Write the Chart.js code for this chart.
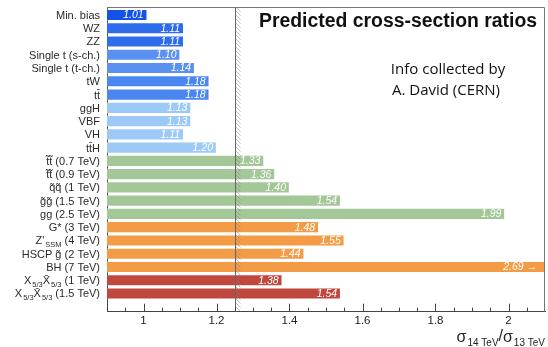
<!DOCTYPE html>
<html>
<head>
<meta charset="utf-8">
<script src="https://cdn.jsdelivr.net/npm/chart.js@4"></script>
<style>
  html, body { margin: 0; padding: 0; background: #fff; }
  canvas { display: block; }
</style>
</head>
<body>
<canvas id="chart" width="548" height="347"></canvas>
<script>
// Processes, top to bottom. "_{...}" marks a subscript.
const categories = [
  'Min. bias', 'WZ', 'ZZ', 'Single t (s-ch.)', 'Single t (t-ch.)', 'tW', 't\u0074\u0304',
  'ggH', 'VBF', 'VH', 't\u0074\u0304H',
  't\u0303t\u0303 (0.7 TeV)', 't\u0303t\u0303 (0.9 TeV)', 'q\u0303q\u0303 (1 TeV)',
  'g\u0303g\u0303 (1.5 TeV)', 'gg (2.5 TeV)',
  'G* (3 TeV)', "Z'_{SSM} (4 TeV)", 'HSCP g\u0303 (2 TeV)', 'BH (7 TeV)',
  'X_{5/3}X\u0304_{5/3} (1 TeV)', 'X_{5/3}X\u0304_{5/3} (1.5 TeV)'
];
// sigma(14 TeV) / sigma(13 TeV)
const ratios = [
  1.01, 1.11, 1.11, 1.10, 1.14, 1.18, 1.18,
  1.13, 1.13, 1.11, 1.20,
  1.33, 1.36, 1.40, 1.54, 1.99,
  1.48, 1.55, 1.44, 2.69,
  1.38, 1.54
];
const processGroup = [
  'minbias', 'diboson', 'diboson', 'singletop', 'singletop', 'top', 'top',
  'higgs', 'higgs', 'higgs', 'higgs',
  'susy', 'susy', 'susy', 'susy', 'susy',
  'exotic', 'exotic', 'exotic', 'exotic',
  'vlq', 'vlq'
];
const xTickValues = [1, 1.2, 1.4, 1.6, 1.8, 2];
const referenceRatio = 1.25;

const groupColors = {
  minbias: '#1553e7',
  diboson: '#2d6dec',
  singletop: '#5a90f0',
  top: '#4a86ef',
  higgs: '#9dc9f7',
  susy: '#a3c797',
  exotic: '#f39c45',
  vlq: '#c0473d'
};

const SANS = '"Liberation Sans", Arial, sans-serif';

// split a label into plain and subscript runs
function richSegments(label) {
  const out = [];
  const re = /_\{([^}]*)\}/g;
  let last = 0, m;
  while ((m = re.exec(label)) !== null) {
    if (m.index > last) out.push({ t: label.slice(last, m.index), sub: false });
    out.push({ t: m[1], sub: true });
    last = re.lastIndex;
  }
  if (last < label.length) out.push({ t: label.slice(last), sub: false });
  return out;
}
// draw a label with subscripts, right-aligned at xr
function drawRich(ctx, label, xr, yMid, size, subSize, color) {
  const segs = richSegments(label);
  let total = 0;
  segs.forEach(s => {
    ctx.font = (s.sub ? subSize : size) + 'px ' + SANS;
    s.w = ctx.measureText(s.t).width + (s.sub ? 1 : 0);
    total += s.w;
  });
  let xx = xr - total;
  ctx.fillStyle = color;
  ctx.textAlign = 'left';
  ctx.textBaseline = 'alphabetic';
  const base = yMid + size * 0.36;
  segs.forEach(s => {
    ctx.font = (s.sub ? subSize : size) + 'px ' + SANS;
    ctx.fillText(s.t, xx + (s.sub ? 1 : 0), s.sub ? base + 3 : base);
    xx += s.w;
  });
}

const decor = {
  id: 'decor',
  afterDatasetsDraw(chart) {
    const { ctx, chartArea: a, scales: { x, y } } = chart;

    // reference line with hatching
    ctx.save();
    ctx.beginPath();
    ctx.rect(a.left, a.top, a.right - a.left, a.bottom - a.top);
    ctx.clip();
    const rx = Math.round(x.getPixelForValue(referenceRatio)) + 0.5;
    ctx.strokeStyle = 'rgba(130,130,130,0.65)';
    ctx.lineWidth = 0.8;
    for (let yy = a.top - 4; yy < a.bottom; yy += 4) {
      ctx.beginPath();
      ctx.moveTo(rx + 0.5, yy);
      ctx.lineTo(rx + 5, yy + 4.5);
      ctx.stroke();
    }
    ctx.strokeStyle = '#666';
    ctx.lineWidth = 1;
    ctx.beginPath();
    ctx.moveTo(rx, a.top);
    ctx.lineTo(rx, a.bottom);
    ctx.stroke();
    ctx.restore();

    // value labels inside the bars
    const meta = chart.getDatasetMeta(0);
    ctx.save();
    ctx.fillStyle = '#ffffff';
    ctx.font = 'italic 10.5px ' + SANS;
    ctx.textAlign = 'right';
    ctx.textBaseline = 'middle';
    meta.data.forEach((bar, i) => {
      const v = ratios[i];
      const clipped = v > x.max;
      const xr = clipped ? a.right - 8 : bar.x - 3.5;
      ctx.fillText(v.toFixed(2) + (clipped ? ' \u2192' : ''), xr, bar.y + 0.5);
    });
    ctx.restore();

    // inward tick marks on the bottom axis
    ctx.save();
    ctx.strokeStyle = '#444';
    ctx.lineWidth = 1;
    for (let k = 1; k < 24; k++) {
      const v = 0.9 + k * 0.05;
      const px = Math.round(x.getPixelForValue(v)) + 0.5;
      const major = Math.abs((v * 5) - Math.round(v * 5)) < 1e-6;
      ctx.beginPath();
      ctx.moveTo(px, a.bottom);
      ctx.lineTo(px, a.bottom - (major ? 8 : 4));
      ctx.stroke();
    }
    // top and right frame
    ctx.strokeStyle = '#777';
    ctx.beginPath();
    ctx.moveTo(a.left, a.top + 0.5);
    ctx.lineTo(a.right - 0.5, a.top + 0.5);
    ctx.lineTo(a.right - 0.5, a.bottom);
    ctx.stroke();
    ctx.restore();

    // process labels
    ctx.save();
    categories.forEach((c, i) => {
      drawRich(ctx, c, 100, y.getPixelForValue(i), 11, 7.5, '#2a2a2a');
    });
    ctx.restore();
  },
  afterDraw(chart) {
    const { ctx } = chart;
    ctx.save();
    // header
    ctx.fillStyle = '#111';
    ctx.font = 'bold 19.4px ' + SANS;
    ctx.textAlign = 'left';
    ctx.textBaseline = 'alphabetic';
    ctx.fillText('Predicted cross-section ratios', 259, 27);
    ctx.font = '15px "Open Sans", sans-serif';
    ctx.textAlign = 'center';
    ctx.fillText('Info collected by', 448, 74);
    ctx.fillText('A. David (CERN)', 446, 95);

    // axis title: sigma_{14 TeV} / sigma_{13 TeV}
    const parts = [
      { t: '\u03c3', s: 16, dy: 0 },
      { t: '14 TeV', s: 10, dy: 3.5 },
      { t: '/', s: 16, dy: -1 },
      { t: '\u03c3', s: 16, dy: 0 },
      { t: '13 TeV', s: 10, dy: 3.5 }
    ];
    let w = 0;
    parts.forEach(p => { ctx.font = p.s + 'px ' + SANS; p.w = ctx.measureText(p.t).width + (p.s === 10 ? 1 : 0); w += p.w; });
    let xx = 545 - w;
    ctx.textAlign = 'left';
    ctx.fillStyle = '#222';
    parts.forEach(p => {
      ctx.font = p.s + 'px ' + SANS;
      ctx.fillText(p.t, xx + (p.s === 10 ? 1 : 0), 342 + p.dy);
      xx += p.w;
    });
    ctx.restore();
  }
};

new Chart(document.getElementById('chart').getContext('2d'), {
  type: 'bar',
  data: {
    datasets: [{
      data: ratios.map((v, i) => ({ x: v, y: i })),
      backgroundColor: processGroup.map(g => groupColors[g]),
      borderColor: 'rgba(255,255,255,0.3)',
      borderWidth: 1,
      barThickness: 11.5
    }]
  },
  options: {
    indexAxis: 'y',
    responsive: false,
    animation: false,
    devicePixelRatio: 1,
    layout: { padding: { top: 7, right: 3, left: 0, bottom: 0 } },
    plugins: { legend: { display: false }, tooltip: { enabled: false } },
    scales: {
      x: {
        type: 'linear',
        min: 0.9,
        max: 2.1,
        grid: { display: false, drawTicks: false },
        border: { color: '#444', width: 1 },
        ticks: {
          color: '#222',
          font: { family: SANS, size: 11.5 },
          padding: 2,
          autoSkip: false,
          maxRotation: 0,
          callback: v => String(v)
        },
        afterBuildTicks: s => { s.ticks = xTickValues.map(v => ({ value: v })); },
        afterFit: s => { s.height = 35.3; }
      },
      y: {
        type: 'linear',
        reverse: true,
        offset: false,
        bounds: 'data',
        min: -0.6,
        max: 22.37,
        grid: { display: false, drawTicks: false, offset: false },
        border: { color: '#444', width: 1 },
        ticks: { display: false },
        afterFit: s => { s.width = 107; }
      }
    }
  },
  plugins: [decor]
});
</script>
</body>
</html>
